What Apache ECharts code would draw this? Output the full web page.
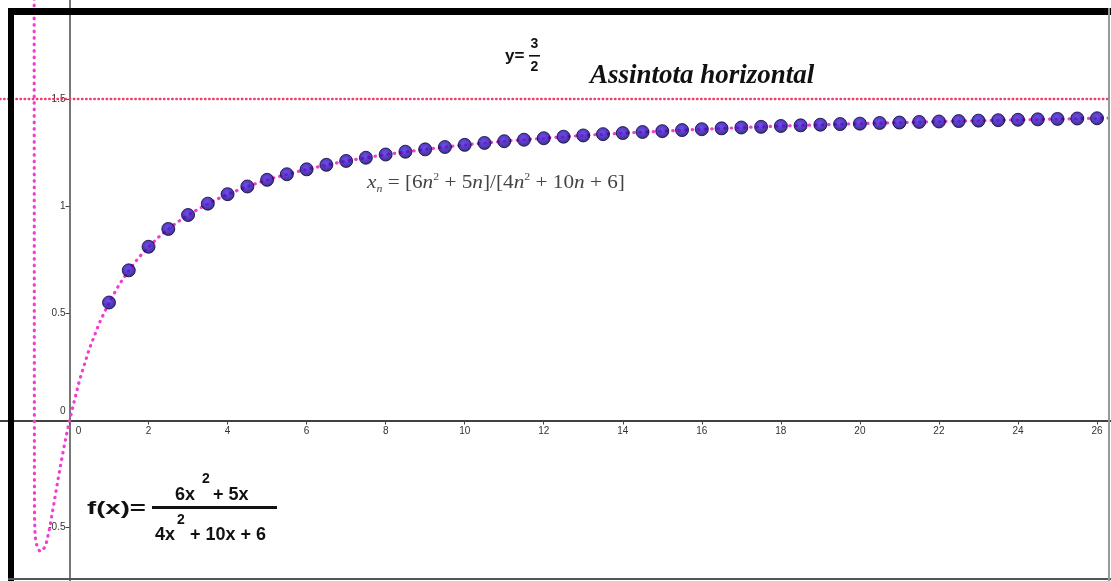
<!DOCTYPE html>
<html>
<head>
<meta charset="utf-8">
<script src="https://cdn.jsdelivr.net/npm/echarts@6/dist/echarts.min.js"></script>
<style>
html,body{margin:0;padding:0;background:#fff;}
#chart{width:1111px;height:581px;}
</style>
</head>
<body>
<div id="chart"></div>
<script>
// Sequence points x_n (n from 1 to 26, step 0.5)
const POINT_N = [1,1.5,2,2.5,3,3.5,4,4.5,5,5.5,6,6.5,7,7.5,8,8.5,9,9.5,10,10.5,11,11.5,12,12.5,13,13.5,14,14.5,15,15.5,16,16.5,17,17.5,18,18.5,19,19.5,20,20.5,21,21.5,22,22.5,23,23.5,24,24.5,25,25.5,26];
const POINT_VAL = [0.550,0.700,0.810,0.893,0.958,1.011,1.055,1.091,1.122,1.148,1.171,1.192,1.210,1.225,1.240,1.253,1.264,1.275,1.285,1.294,1.302,1.309,1.316,1.323,1.329,1.335,1.340,1.345,1.349,1.354,1.358,1.362,1.366,1.369,1.373,1.376,1.379,1.382,1.384,1.387,1.389,1.392,1.394,1.396,1.398,1.400,1.402,1.404,1.406,1.408,1.409];
// Dotted curve f(x)
const CURVE_X = [-0.895,-0.892,-0.89,-0.888,-0.885,-0.87,-0.82,-0.75,-0.68,-0.6,-0.5,-0.4,-0.3,-0.2,-0.1,0,0.25,0.5,0.75,1,1.25,1.5,1.75,2,2.25,2.5,2.75,3,3.5,4,4.5,5,5.5,6,7,8,9,10,11,12,13,14,15,16,18,20,22,24,26,26.5];
const CURVE_Y = [2.3,1.2,0.3,-0.2,-0.45,-0.54,-0.59,-0.61,-0.605,-0.583,-0.5,-0.394,-0.286,-0.183,-0.087,0,0.186,0.333,0.452,0.550,0.631,0.700,0.759,0.810,0.854,0.893,0.927,0.958,1.011,1.055,1.091,1.122,1.148,1.171,1.210,1.240,1.264,1.285,1.302,1.316,1.329,1.340,1.349,1.358,1.373,1.384,1.394,1.402,1.409,1.411];
// Horizontal asymptote
const ASYMPTOTE_Y = 1.5;
// Axis ranges and steps
const X_RANGE = [-1.7586, 26.354];
const Y_RANGE = [-0.7483, 1.9604];
const X_STEP = 2;
const Y_STEP = 0.5;

const W = 1111, H = 581;
const chart = echarts.init(document.getElementById('chart'), null, {renderer:'canvas', width:W, height:H});
const labelFont = {fontSize:10, color:'#333', fontFamily:'Liberation Sans, Arial, sans-serif'};
// pixel position of the zero lines inside the full-canvas grid
const xZeroPx = (0 - X_RANGE[0]) / (X_RANGE[1] - X_RANGE[0]) * W;
const yZeroPx = (Y_RANGE[1] - 0) / (Y_RANGE[1] - Y_RANGE[0]) * H;

const option = {
  animation:false,
  backgroundColor:'#fff',
  grid:{left:0,right:0,top:0,bottom:0,containLabel:false,outerBoundsMode:'none'},
  xAxis:{
    type:'value', min:X_RANGE[0], max:X_RANGE[1], position:'bottom',
    offset:-(H - yZeroPx),
    minInterval:X_STEP, maxInterval:X_STEP, splitNumber:14,
    splitLine:{show:false},
    axisLine:{onZero:false, lineStyle:{color:'#000', width:1.5}},
    axisTick:{show:true, length:4, lineStyle:{color:'#444'}},
    axisLabel:Object.assign({margin:6, showMinLabel:false, showMaxLabel:false, hideOverlap:false,
      formatter:function(v){return v===0?'{z|0}':String(v);},
      rich:{z:Object.assign({padding:[0,0,0,18]}, labelFont)}}, labelFont)
  },
  yAxis:{
    type:'value', min:Y_RANGE[0], max:Y_RANGE[1], position:'left',
    offset:-xZeroPx,
    minInterval:Y_STEP, maxInterval:Y_STEP, splitNumber:5,
    splitLine:{show:false},
    axisLine:{onZero:false, lineStyle:{color:'#777', width:2}},
    axisTick:{show:true, length:4, lineStyle:{color:'#444'}},
    axisLabel:Object.assign({margin:4, showMinLabel:false, showMaxLabel:false, hideOverlap:false,
      formatter:function(v){return v===0?'{z|0}':String(v);},
      rich:{z:Object.assign({padding:[0,0,18,0]}, labelFont)}}, labelFont)
  },
  series:[
    {
      type:'line', data:CURVE_X.map((x,i)=>[x,CURVE_Y[i]]),
      showSymbol:false, symbol:'none', clip:true, z:2,
      lineStyle:{color:'#f03fd0', width:3.2, type:[0.5,6], cap:'round'},
      markLine:{
        silent:true, symbol:'none', label:{show:false},
        lineStyle:{color:'#ee3f6e', width:2.4, type:[0.5,3.6], cap:'round'},
        data:[{yAxis:ASYMPTOTE_Y}]
      }
    },
    {
      type:'scatter', data:POINT_N.map((n,i)=>[n,POINT_VAL[i]]),
      symbol:'circle', symbolSize:13, z:3,
      itemStyle:{
        color:{type:'radial',x:0.45,y:0.4,r:0.6,colorStops:[{offset:0,color:'#4a25e0'},{offset:0.6,color:'#2a08b0'},{offset:1,color:'#0e0345'}]},
        borderColor:'#0c0238', borderWidth:1
      }
    }
  ],
  graphic:[
    {type:'rect', z:100, shape:{x:8,y:8,width:1103,height:7}, style:{fill:'#000'}},
    {type:'rect', z:100, shape:{x:8,y:8,width:6,height:573}, style:{fill:'#000'}},
    {type:'rect', z:100, shape:{x:8,y:578,width:1103,height:2}, style:{fill:'#555'}},
    {type:'rect', z:100, shape:{x:1108,y:8,width:2,height:573}, style:{fill:'#999'}},
    // y = 3/2
    {type:'text', z:50, style:{text:'y=', x:505, y:56, fill:'#111', font:'bold 17px "Liberation Sans", Arial', textVerticalAlign:'middle'}},
    {type:'text', z:50, style:{text:'3', x:534.5, y:44, fill:'#111', font:'bold 14px "Liberation Sans", Arial', textAlign:'center', textVerticalAlign:'middle'}},
    {type:'rect', z:50, shape:{x:529,y:55,width:11,height:1.6}, style:{fill:'#111'}},
    {type:'text', z:50, style:{text:'2', x:534.5, y:67, fill:'#111', font:'bold 14px "Liberation Sans", Arial', textAlign:'center', textVerticalAlign:'middle'}},
    // Assintota horizontal
    {type:'text', z:50, style:{text:'Assintota horizontal', x:590, y:76, fill:'#111', font:'italic bold 27px "Liberation Serif", "Times New Roman", serif', textVerticalAlign:'middle'}},
    // x_n formula
    {type:'text', z:50, x:367, y:183, scaleX:1.18, style:{
      text:'{i|x}{s|n}{r| = [6}{i|n}{p|2}{r| + 5}{i|n}{r|]/[4}{i|n}{p|2}{r| + 10}{i|n}{r| + 6]}',
      x:0, y:0, textVerticalAlign:'middle',
      rich:{
        i:{fontFamily:'Liberation Serif', fontStyle:'italic', fontSize:18, fill:'#444', lineHeight:22},
        r:{fontFamily:'Liberation Serif', fontSize:18, fill:'#444', lineHeight:22},
        s:{fontFamily:'Liberation Serif', fontStyle:'italic', fontSize:10, fill:'#444', verticalAlign:'bottom', lineHeight:12},
        p:{fontFamily:'Liberation Serif', fontSize:10, fill:'#444', verticalAlign:'top', lineHeight:12}
      }}},
    // f(x) formula
    {type:'text', z:50, x:87, y:509, scaleX:1.45, style:{text:'f(x)=', x:0, y:0, fill:'#111', font:'bold 19px "Liberation Sans", Arial', textVerticalAlign:'middle'}},
    {type:'text', z:50, style:{text:'6x', x:175, y:495, fill:'#111', font:'bold 18px "Liberation Sans", Arial', textVerticalAlign:'middle'}},
    {type:'text', z:50, style:{text:'2', x:202, y:479, fill:'#111', font:'bold 14px "Liberation Sans", Arial', textVerticalAlign:'middle'}},
    {type:'text', z:50, style:{text:'+ 5x', x:213, y:495, fill:'#111', font:'bold 18px "Liberation Sans", Arial', textVerticalAlign:'middle'}},
    {type:'rect', z:50, shape:{x:152,y:506,width:125,height:3}, style:{fill:'#111'}},
    {type:'text', z:50, style:{text:'4x', x:155, y:535, fill:'#111', font:'bold 18px "Liberation Sans", Arial', textVerticalAlign:'middle'}},
    {type:'text', z:50, style:{text:'2', x:177, y:520, fill:'#111', font:'bold 14px "Liberation Sans", Arial', textVerticalAlign:'middle'}},
    {type:'text', z:50, style:{text:'+ 10x + 6', x:190, y:535, fill:'#111', font:'bold 18px "Liberation Sans", Arial', textVerticalAlign:'middle'}}
  ]
};
chart.setOption(option);
</script>
</body>
</html>
